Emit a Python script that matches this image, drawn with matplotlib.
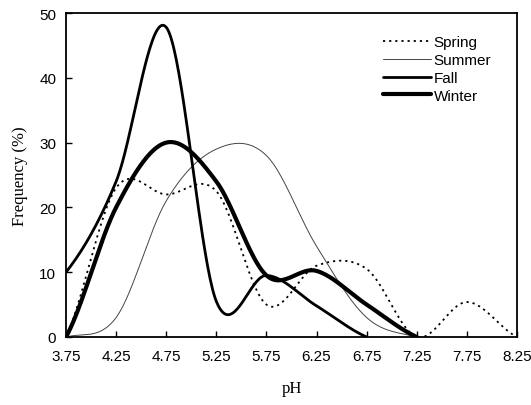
import numpy as np
import matplotlib
matplotlib.use("Agg")
from matplotlib import pyplot as plt

# pH classes (bin centres) and seasonal frequency (%)
ph_bins = [3.75, 4.25, 4.75, 5.25, 5.75, 6.25, 6.75, 7.25, 7.75, 8.25]
tick_labels = ["3.75", "4.25", "4.75", "5.25", "5.75", "6.25", "6.75", "7.25", "7.75", "8.25"]

spring = [0, 23, 22, 22.5, 5, 11, 10.5, 0, 5.4, 0]
summer = [0, 3, 21, 29, 28, 14, 3, 0]
fall = [10, 24, 47.8, 5.5, 9.5, 4.8, 0]
winter = [0, 20, 30, 24, 9.5, 10.2, 5, 0]


def smooth(xs, ys, n=40):
    """Catmull-Rom curve through the points, like a spreadsheet smoothed line."""
    xs = np.asarray(xs, dtype=float)
    ys = np.asarray(ys, dtype=float)
    k = len(ys)
    m = np.zeros(k)
    m[1:-1] = (ys[2:] - ys[:-2]) / 2
    m[0] = (ys[1] - ys[0]) * 0.7
    m[-1] = (ys[-1] - ys[-2]) * 0.7
    out_x, out_y = [], []
    for i in range(k - 1):
        t = np.linspace(0, 1, n, endpoint=(i == k - 2))
        h00 = 2 * t**3 - 3 * t**2 + 1
        h10 = t**3 - 2 * t**2 + t
        h01 = -2 * t**3 + 3 * t**2
        h11 = t**3 - t**2
        out_y.append(h00 * ys[i] + h10 * m[i] + h01 * ys[i + 1] + h11 * m[i + 1])
        out_x.append(xs[i] + t * (xs[i + 1] - xs[i]))
    return np.concatenate(out_x), np.concatenate(out_y)


fig = plt.figure(figsize=(5.31, 4.06), dpi=100)
ax = fig.add_axes([0.1243, 0.1675, 0.8493, 0.798])

series = [
    ("Spring", spring, dict(color="black", lw=1.3, linestyle=(0, (1.2, 2.2)))),
    ("Summer", summer, dict(color="#444444", lw=0.7)),
    ("Fall", fall, dict(color="black", lw=2.0)),
    ("Winter", winter, dict(color="black", lw=3.0)),
]
for name, vals, style in series:
    sx, sy = smooth(ph_bins[:len(vals)], vals)
    ax.plot(sx, sy, label=name, solid_capstyle="round", **style)

ax.set_xlim(3.75, 8.25)
ax.set_ylim(0, 50)
ax.set_xticks(ph_bins)
ax.set_xticklabels(tick_labels)
ax.set_yticks(range(0, 51, 10))

for side in ["left", "right", "top", "bottom"]:
    ax.spines[side].set_linewidth(1.3)

ax.tick_params(axis="both", direction="in", length=4, width=1.0,
               labelsize=11)
ax.tick_params(axis="x", pad=9)
ax.tick_params(axis="y", pad=7)
for lbl in ax.get_xticklabels() + ax.get_yticklabels():
    lbl.set_family("Liberation Sans")

ax.set_xlabel("pH", family="Liberation Serif", fontsize=12, labelpad=12)
ax.set_ylabel("Frequency (%)", family="Liberation Serif", fontsize=12, labelpad=8)

leg = ax.legend(loc="upper left", bbox_to_anchor=(0.685, 0.955), frameon=False,
                handlelength=3.2, handletextpad=0.15, labelspacing=0.25,
                borderpad=0, prop={"family": "Liberation Sans", "size": 11})

fig.savefig("out.png", dpi=100)
